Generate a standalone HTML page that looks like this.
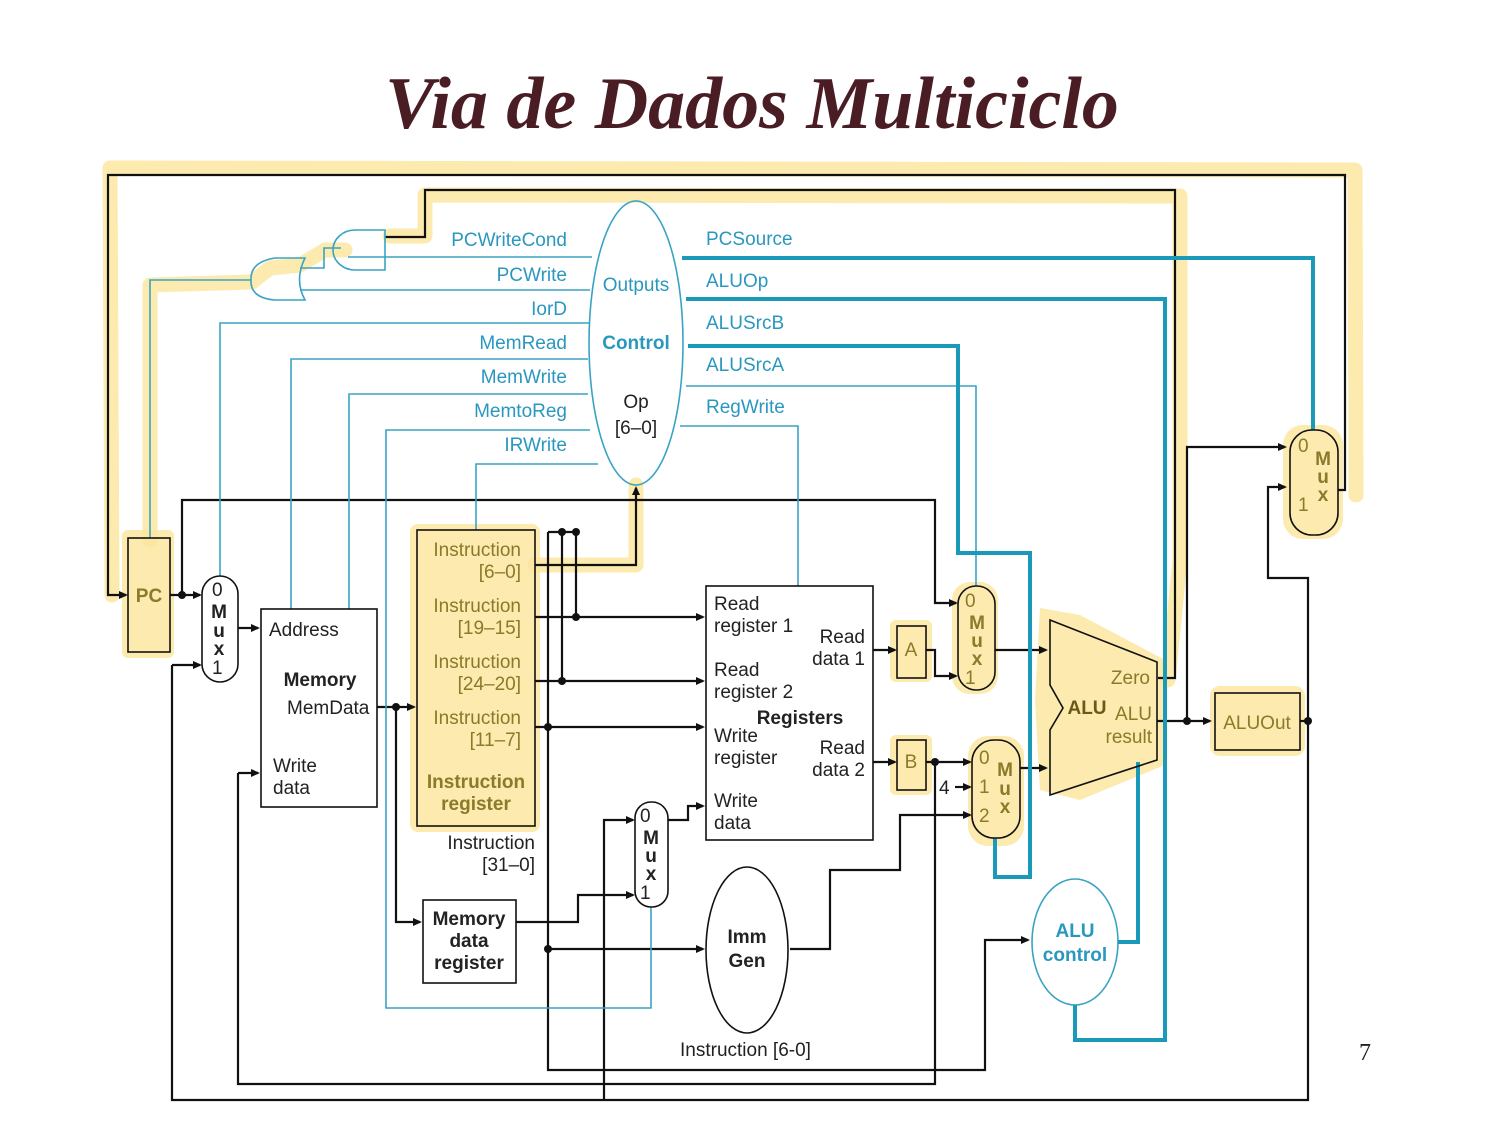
<!DOCTYPE html>
<html><head><meta charset="utf-8"><style>
html,body{margin:0;padding:0;background:#fff;}
svg{display:block;}
text{font-family:"Liberation Sans",sans-serif;}
.t{fill:#2a97bf;font-size:19px;}
.b{fill:#222;font-size:19px;}
.bb{fill:#222;font-size:19px;font-weight:bold;}
.y{fill:#8a7a2a;font-size:19px;}
</style></head><body>
<svg width="1500" height="1125" viewBox="0 0 1500 1125" xmlns="http://www.w3.org/2000/svg">
<text x="752" y="128" text-anchor="middle" style="font-family:'Liberation Serif',serif;font-style:italic;font-weight:bold;font-size:74px;fill:#4a1c24">Via de Dados Multiciclo</text>

<!-- yellow highlights -->
<g stroke="#fbe6a0" stroke-opacity="0.85" fill="none" stroke-width="15" stroke-linecap="round" stroke-linejoin="round">
<path d="M112,595 L110,168 L1355,170 L1356,495"/>
<path d="M390,236 L425,236 L425,195 L1180,196 L1180,560 L1168,680"/>
<path d="M150,540 L150,285 L252,282 L270,268 L300,265 L325,250 L345,250"/>
<path d="M535,565 L636,565 L636,485"/>
</g>
<g fill="#fbe6a0" fill-opacity="0.85">
<rect x="122" y="530" width="52" height="128" rx="6"/>
<rect x="410" y="524" width="130" height="308" rx="8"/>
<rect x="890" y="620" width="42" height="62" rx="6"/>
<rect x="890" y="735" width="42" height="60" rx="6"/>
<rect x="952" y="582" width="46" height="112" rx="18"/>
<rect x="968" y="736" width="56" height="110" rx="20"/>
<rect x="1283" y="425" width="60" height="114" rx="20"/>
<rect x="1210" y="686" width="95" height="70" rx="10"/>
<path d="M1040,608 L1080,615 L1165,660 L1165,765 L1080,800 L1040,790 L1035,700 Z"/>
</g>

<!-- black lines -->
<g stroke="#111" stroke-width="2.2" fill="none">
<path d="M1338,490 L1345,490 L1345,175 L108,175 L108,595 L126,595"/>
<path d="M385,237 L425,237 L425,190 L1175,190 L1175,678 L1158,678"/>
<path d="M170,595 L200,595"/>
<path d="M182,595 L182,500 L935,500 L935,603 L956,603"/>
<path d="M172,665 L200,665"/>
<path d="M172,665 L172,1100 L1308,1100 L1308,721"/>
<path d="M238,628 L258,628"/>
<path d="M238,773 L258,773"/>
<path d="M238,773 L238,1084 L935,1084 L935,762"/>
<path d="M377,707 L414,707"/>
<path d="M396,707 L396,922 L420,922"/>
<path d="M535,565 L636,565 L636,488"/>
<path d="M548,532 L576,532"/>
<path d="M548,532 L548,1070 L985,1070 L985,940 L1028,940"/>
<path d="M562,532 L562,681"/>
<path d="M576,532 L576,617"/>
<path d="M535,617 L703,617"/>
<path d="M535,681 L703,681"/>
<path d="M535,727 L703,727"/>
<path d="M548,949 L703,949"/>
<path d="M516,922 L578,922 L578,895 L633,895"/>
<path d="M604,1100 L604,820 L633,820"/>
<path d="M668,820 L688,820 L688,806 L703,806"/>
<path d="M873,650 L895,650"/>
<path d="M926,650 L935,650 L935,676 L956,676"/>
<path d="M873,762 L895,762"/>
<path d="M926,762 L970,762"/>
<path d="M955,787 L970,787"/>
<path d="M790,949 L830,949 L830,870 L900,870 L900,815 L970,815"/>
<path d="M995,650 L1046,650"/>
<path d="M1020,768 L1046,768"/>
<path d="M1157,721 L1210,721"/>
<path d="M1187,721 L1187,447 L1285,447"/>
<path d="M1308,721 L1308,578 L1268,578 L1268,487 L1285,487"/>
<path d="M1300,721 L1308,721"/>
</g>
<!-- arrowheads -->
<g fill="#111">
<path d="M128,595 l-9,-4 v8z"/><path d="M202,595 l-9,-4 v8z"/><path d="M958,603 l-9,-4 v8z"/>
<path d="M202,665 l-9,-4 v8z"/><path d="M260,628 l-9,-4 v8z"/><path d="M260,773 l-9,-4 v8z"/>
<path d="M416,707 l-9,-4 v8z"/><path d="M422,922 l-9,-4 v8z"/><path d="M636,486 l-4,9 h8z"/>
<path d="M1030,940 l-9,-4 v8z"/><path d="M705,617 l-9,-4 v8z"/><path d="M705,681 l-9,-4 v8z"/>
<path d="M705,727 l-9,-4 v8z"/><path d="M705,949 l-9,-4 v8z"/><path d="M635,895 l-9,-4 v8z"/>
<path d="M635,820 l-9,-4 v8z"/><path d="M705,806 l-9,-4 v8z"/><path d="M897,650 l-9,-4 v8z"/>
<path d="M958,676 l-9,-4 v8z"/><path d="M897,762 l-9,-4 v8z"/><path d="M972,762 l-9,-4 v8z"/>
<path d="M972,787 l-9,-4 v8z"/><path d="M972,815 l-9,-4 v8z"/><path d="M1048,650 l-9,-4 v8z"/>
<path d="M1048,768 l-9,-4 v8z"/><path d="M1212,721 l-9,-4 v8z"/><path d="M1287,447 l-9,-4 v8z"/>
<path d="M1287,487 l-9,-4 v8z"/>
<circle cx="182" cy="595" r="4"/><circle cx="396" cy="707" r="4"/><circle cx="562" cy="532" r="4"/>
<circle cx="576" cy="532" r="4"/><circle cx="576" cy="617" r="4"/><circle cx="562" cy="681" r="4"/>
<circle cx="548" cy="727" r="4"/><circle cx="548" cy="949" r="4"/><circle cx="935" cy="762" r="4"/>
<circle cx="1187" cy="721" r="4"/><circle cx="1308" cy="721" r="4"/>
</g>

<!-- teal thin lines -->
<g stroke="#3aa3c4" stroke-width="1.6" fill="none">
<path d="M592,257 L348,257"/>
<path d="M590,290 L300,290"/>
<path d="M341,248 L324,248 L324,268 L300,268"/>
<path d="M251,280 L150,280 L150,538"/>
<path d="M590,323 L220,323 L220,576"/>
<path d="M588,359 L291,359 L291,609"/>
<path d="M588,394 L349,394 L349,609"/>
<path d="M590,430 L386,430 L386,1008 L651,1008 L651,907"/>
<path d="M598,464 L476,464 L476,530"/>
<path d="M686,386 L976,386 L976,586"/>
<path d="M680,426 L798,426 L798,586"/>
<path d="M385,230 L355,230 A22,20 0 0 0 355,270 L385,270 Z"/>
<path d="M305,258 L275,258 Q250,262 251,280 Q250,298 275,300 L305,300 Q294,280 305,258 Z"/>
<ellipse cx="636" cy="343" rx="47" ry="142"/>
<ellipse cx="1075" cy="942" rx="43" ry="63"/>
</g>
<!-- teal thick -->
<g stroke="#1a9ab8" stroke-width="4" fill="none">
<path d="M682,258 L1313,258 L1313,430"/>
<path d="M686,299 L1165,299 L1165,1040 L1075,1040 L1075,1005"/>
<path d="M688,346 L958,346 L958,553 L1030,553 L1030,877 L995,877 L995,838"/>
<path d="M1118,942 L1138,942 L1138,762"/>
</g>

<!-- boxes -->
<g stroke="#111" stroke-width="1.6" fill="none">
<rect x="128" y="538" width="42" height="114"/>
<rect x="202" y="576" width="36" height="106" rx="18"/>
<rect x="261" y="609" width="116" height="198"/>
<rect x="417" y="530" width="118" height="296"/>
<rect x="423" y="900" width="93" height="83"/>
<rect x="635" y="802" width="33" height="105" rx="16"/>
<rect x="706" y="586" width="167" height="254"/>
<rect x="897" y="626" width="29" height="52"/>
<rect x="897" y="740" width="29" height="50"/>
<rect x="958" y="586" width="37" height="104" rx="18"/>
<rect x="972" y="740" width="48" height="98" rx="22"/>
<path d="M1050,620 L1157,662 L1157,760 L1050,795 L1050,730 L1063,708 L1050,685 Z"/>
<rect x="1215" y="693" width="85" height="57"/>
<rect x="1290" y="430" width="48" height="105" rx="22"/>
<ellipse cx="747" cy="950" rx="41" ry="83"/>
</g>

<!-- text -->
<g class="t" text-anchor="end">
<text x="567" y="246">PCWriteCond</text><text x="567" y="281">PCWrite</text><text x="567" y="315">IorD</text>
<text x="567" y="349">MemRead</text><text x="567" y="383">MemWrite</text><text x="567" y="417">MemtoReg</text>
<text x="567" y="451">IRWrite</text>
</g>
<g class="t">
<text x="706" y="245">PCSource</text><text x="706" y="287">ALUOp</text><text x="706" y="329">ALUSrcB</text>
<text x="706" y="371">ALUSrcA</text><text x="706" y="413">RegWrite</text>
<text x="636" y="291" text-anchor="middle">Outputs</text>
<text x="636" y="349" text-anchor="middle" font-weight="bold">Control</text>
<text x="1075" y="937" text-anchor="middle" font-weight="bold">ALU</text>
<text x="1075" y="961" text-anchor="middle" font-weight="bold">control</text>
</g>
<g class="b">
<text x="636" y="408" text-anchor="middle">Op</text><text x="636" y="434" text-anchor="middle">[6–0]</text>
<text x="212" y="596">0</text><text x="212" y="674">1</text>
<text x="269" y="636">Address</text><text x="287" y="714">MemData</text>
<text x="273" y="772">Write</text><text x="273" y="794">data</text>
<text x="535" y="849" text-anchor="end">Instruction</text><text x="535" y="871" text-anchor="end">[31–0]</text>
<text x="640" y="822">0</text><text x="640" y="899">1</text>
<text x="714" y="610">Read</text><text x="714" y="632">register 1</text>
<text x="865" y="643" text-anchor="end">Read</text><text x="865" y="665" text-anchor="end">data 1</text>
<text x="714" y="676">Read</text><text x="714" y="698">register 2</text>
<text x="714" y="742">Write</text><text x="714" y="764">register</text>
<text x="865" y="754" text-anchor="end">Read</text><text x="865" y="776" text-anchor="end">data 2</text>
<text x="714" y="807">Write</text><text x="714" y="829">data</text>
<text x="680" y="1056">Instruction [6-0]</text>
<text x="939" y="794">4</text>
</g>
<g class="bb" text-anchor="middle">
<text x="219" y="618">M</text><text x="219" y="637">u</text><text x="219" y="655">x</text>
<text x="320" y="686">Memory</text>
<text x="469" y="925">Memory</text><text x="469" y="947">data</text><text x="469" y="969">register</text>
<text x="651" y="844">M</text><text x="651" y="862">u</text><text x="651" y="880">x</text>
<text x="800" y="724">Registers</text>
<text x="747" y="943">Imm</text><text x="747" y="967">Gen</text>
</g>
<g class="y">
<text x="149" y="602" text-anchor="middle" font-weight="bold">PC</text>
<g text-anchor="end"><text x="521" y="556">Instruction</text><text x="521" y="578">[6–0]</text>
<text x="521" y="612">Instruction</text><text x="521" y="634">[19–15]</text>
<text x="521" y="668">Instruction</text><text x="521" y="690">[24–20]</text>
<text x="521" y="724">Instruction</text><text x="521" y="746">[11–7]</text></g>
<g text-anchor="middle" font-weight="bold"><text x="476" y="788">Instruction</text><text x="476" y="810">register</text></g>
<text x="911" y="656" text-anchor="middle">A</text><text x="911" y="768" text-anchor="middle">B</text>
<text x="965" y="607">0</text><text x="965" y="684">1</text>
<g text-anchor="middle" font-weight="bold"><text x="977" y="629">M</text><text x="977" y="647">u</text><text x="977" y="665">x</text></g>
<text x="979" y="764">0</text><text x="979" y="793">1</text><text x="979" y="822">2</text>
<g text-anchor="middle" font-weight="bold"><text x="1005" y="776">M</text><text x="1005" y="795">u</text><text x="1005" y="813">x</text></g>
<text x="1087" y="714" text-anchor="middle" font-weight="bold" fill="#6a5a18">ALU</text>
<text x="1150" y="684" text-anchor="end">Zero</text><text x="1152" y="720" text-anchor="end">ALU</text><text x="1152" y="743" text-anchor="end">result</text>
<text x="1257" y="729" text-anchor="middle">ALUOut</text>
<text x="1298" y="452">0</text><text x="1298" y="511">1</text>
<g text-anchor="middle" font-weight="bold"><text x="1323" y="465">M</text><text x="1323" y="483">u</text><text x="1323" y="501">x</text></g>
</g>
<text x="1365" y="1060" text-anchor="middle" style="font-family:'Liberation Serif',serif;font-size:24px;fill:#222">7</text>
</svg>
</body></html>
